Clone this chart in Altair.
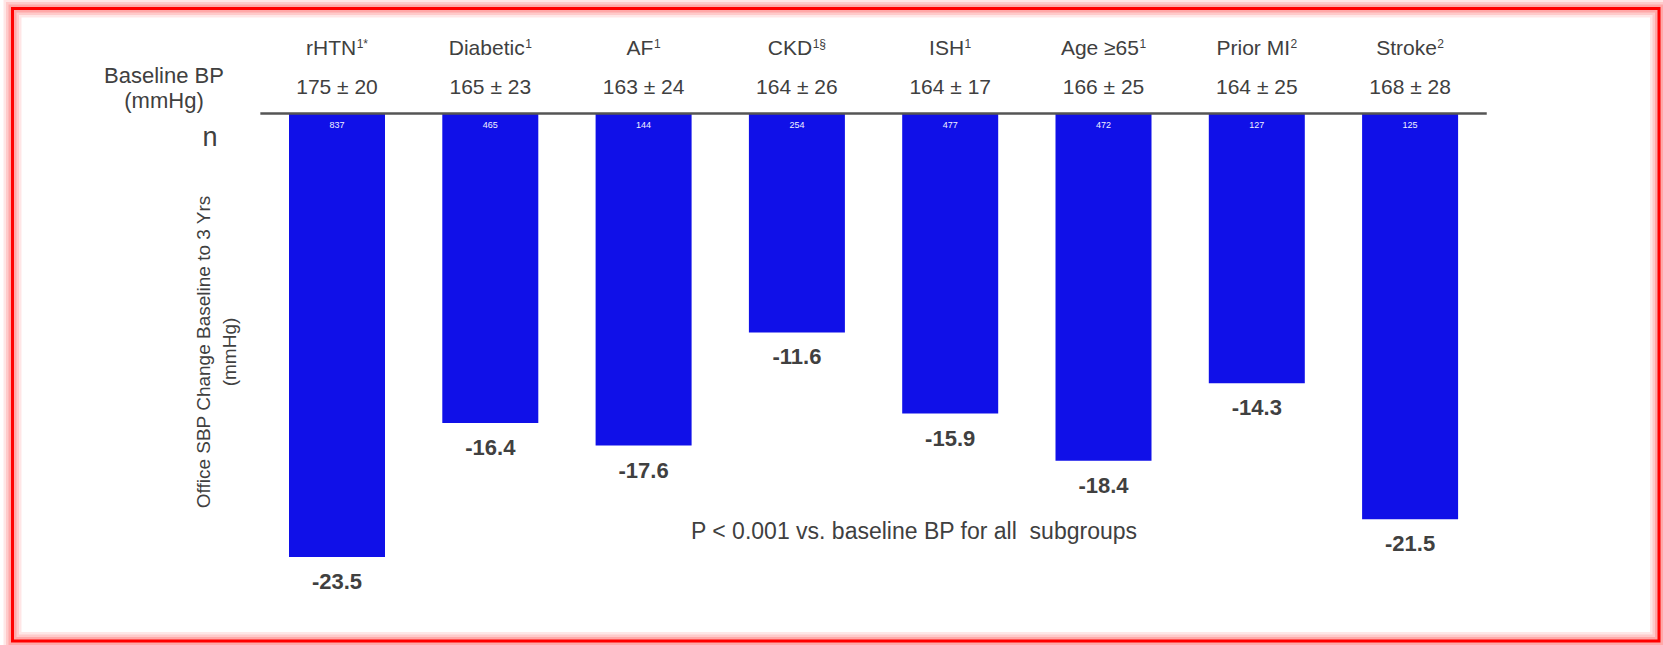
import altair as alt
import pandas as pd

# --- chart values -----------------------------------------------------------
groups = ["rHTN", "Diabetic", "AF", "CKD", "ISH", "Age ≥65", "Prior MI", "Stroke"]
group_notes = ["1*", "1", "1", "1§", "1", "1", "2", "2"]
baseline_bp = ["175 ± 20", "165 ± 23", "163 ± 24", "164 ± 26",
               "164 ± 17", "166 ± 25", "164 ± 25", "168 ± 28"]
n_patients = [837, 465, 144, 254, 477, 472, 127, 125]
sbp_change = [-23.5, -16.4, -17.6, -11.6, -15.9, -18.4, -14.3, -21.5]

# --- layout -----------------------------------------------------------------
W, H = 1663, 645
FIRST_CENTER = 337.0      # px centre of the first bar
STEP = 153.3              # px between bar centres
BAR_HALF = 48.0 / STEP    # half bar width in band units
ZERO_Y = 113.5            # px of the zero line
PX_PER_MMHG = 18.87

NAME_SIZE = 21
NOTE_SIZE = 12
TEXT = "#404040"
BAR = "#1010E8"

# Arial / Liberation Sans advance widths (1/1000 em) for label layout
ADV = {" ": 278, "*": 389, "1": 556, "2": 556, "5": 556, "6": 556, "§": 556,
       "≥": 549, "A": 667, "C": 722, "D": 722, "F": 611, "H": 722, "I": 278,
       "K": 667, "M": 833, "N": 722, "P": 667, "S": 667, "T": 611, "a": 556,
       "b": 556, "c": 500, "e": 556, "g": 556, "i": 222, "k": 500, "o": 556,
       "r": 333, "t": 278}


def text_width(s, size):
    return sum(ADV.get(ch, 556) for ch in s) * size / 1000.0


rows = []
for i, (g, note, bp, n, v) in enumerate(
        zip(groups, group_notes, baseline_bp, n_patients, sbp_change)):
    base_w = text_width(g, NAME_SIZE)
    note_w = text_width(note, NOTE_SIZE)
    left_px = -(base_w + 0.5 + note_w) / 2.0   # offset from bar centre
    rows.append({
        "idx": i,
        "group": g,
        "note": note,
        "bp": bp,
        "n": str(n),
        "change": v,
        "label": f"{v:.1f}",
        "zero": 0.0,
        "x0": i - BAR_HALF,
        "x1": i + BAR_HALF,
        "name_x": i + left_px / STEP,
        "note_x": i + (left_px + base_w + 0.5) / STEP,
    })
df = pd.DataFrame(rows)

xs = alt.Scale(domain=[-FIRST_CENTER / STEP, (W - FIRST_CENTER) / STEP],
               nice=False, zero=False)
y_top = ZERO_Y / PX_PER_MMHG
ys = alt.Scale(domain=[y_top - H / PX_PER_MMHG, y_top], nice=False, zero=False)

base = alt.Chart(df)

bars = base.mark_bar(color=BAR).encode(
    x=alt.X("x0:Q", scale=xs, axis=None),
    x2="x1:Q",
    y=alt.Y("change:Q", scale=ys, axis=None),
    y2="zero:Q",
)

zero_line = alt.Chart(pd.DataFrame({"a": [-0.5], "b": [7.5], "z": [0.0]})).mark_rule(
    color="#555555", strokeWidth=2.5
).encode(
    x=alt.X("a:Q", scale=xs, axis=None),
    x2="b:Q",
    y=alt.Y("z:Q", scale=ys, axis=None),
)

value_labels = base.mark_text(
    fontSize=22, fontWeight="bold", color=TEXT, dy=25, baseline="middle"
).encode(
    x=alt.X("idx:Q", scale=xs, axis=None),
    y=alt.Y("change:Q", scale=ys, axis=None),
    text="label:N",
)

n_labels = base.mark_text(fontSize=9, color="#F0F0FF", baseline="middle").encode(
    x=alt.X("idx:Q", scale=xs, axis=None),
    y=alt.value(125),
    text="n:N",
)

names = base.mark_text(
    fontSize=NAME_SIZE, color=TEXT, align="left", baseline="middle"
).encode(
    x=alt.X("name_x:Q", scale=xs, axis=None),
    y=alt.value(48.5),
    text="group:N",
)

notes = base.mark_text(
    fontSize=NOTE_SIZE, color=TEXT, align="left", baseline="middle"
).encode(
    x=alt.X("note_x:Q", scale=xs, axis=None),
    y=alt.value(44),
    text="note:N",
)

bp_labels = base.mark_text(fontSize=NAME_SIZE, color=TEXT, baseline="middle").encode(
    x=alt.X("idx:Q", scale=xs, axis=None),
    y=alt.value(88),
    text="bp:N",
)


def annotation(text, x, y, **kw):
    return alt.Chart(pd.DataFrame({"t": [text]})).mark_text(
        color=TEXT, baseline="middle", **kw
    ).encode(x=alt.value(x), y=alt.value(y), text="t:N")


side_text = [
    annotation("Baseline BP", 164, 76, fontSize=22),
    annotation("(mmHg)", 164, 101, fontSize=22),
    annotation("n", 210, 138, fontSize=27),
    annotation("Office SBP Change Baseline to 3 Yrs", 204, 352, fontSize=19, angle=270),
    annotation("(mmHg)", 230, 352, fontSize=19, angle=270),
    annotation("P < 0.001 vs. baseline BP for all\u00a0 subgroups", 914, 532, fontSize=23),
]


def frame(width, color, opacity):
    return alt.Chart(pd.DataFrame({"k": [0]})).mark_rect(
        fillOpacity=0, stroke=color, strokeWidth=width, strokeOpacity=opacity
    ).encode(
        x=alt.value(12.5), x2=alt.value(1659),
        y=alt.value(8.5), y2=alt.value(641),
    )


border = [
    frame(18, "#FF8080", 0.2),
    frame(13, "#FF8080", 0.28),
    frame(8, "#FF7070", 0.38),
    frame(3, "#FF0000", 1.0),
]

chart = alt.layer(
    *border, bars, zero_line, value_labels, n_labels, names, notes, bp_labels,
    *side_text
).properties(
    width=W, height=H,
    autosize=alt.AutoSizeParams(type="none"),
    padding=0,
    background="white",
).configure_view(strokeWidth=0).configure_text(font="Liberation Sans")

chart.save("out.html", embed_options={"renderer": "svg", "actions": False})
